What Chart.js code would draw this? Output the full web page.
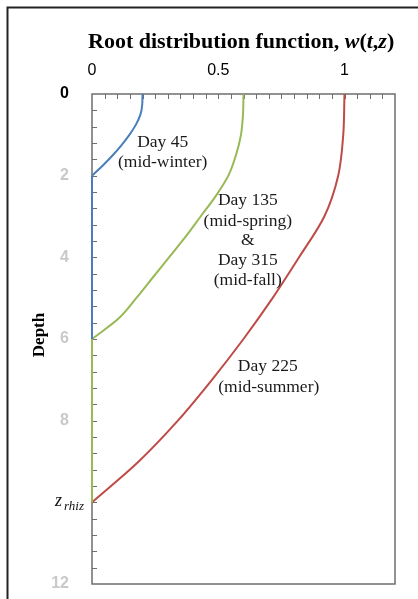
<!DOCTYPE html>
<html>
<head>
<meta charset="utf-8">
<script src="https://cdn.jsdelivr.net/npm/chart.js@4.4.1/dist/chart.umd.min.js"></script>
<style>
  html, body { margin: 0; padding: 0; background: #fff; }
  #wrap { width: 418px; height: 599px; }
</style>
</head>
<body>
<div id="wrap"><canvas id="chart" width="418" height="599"></canvas></div>
<script>
// depth below surface and root distribution w(t,z) for each season
const winterDepth = [0, 0.25, 0.5, 0.75, 1, 1.25, 1.5, 1.75, 2];
const winterW     = [0.20, 0.199, 0.192, 0.174, 0.148, 0.117, 0.082, 0.043, 0];

const springFallDepth = [0, 0.5, 1, 1.5, 2, 2.5, 3, 3.5, 4, 4.5, 5, 5.5, 6];
const springFallW     = [0.60, 0.598, 0.59, 0.57, 0.54, 0.49, 0.43, 0.37, 0.305, 0.24, 0.175, 0.105, 0];

const summerDepth = [0, 1, 2, 3, 4, 5, 6, 7, 8, 9, 10];
const summerW     = [1.00, 0.995, 0.975, 0.92, 0.82, 0.715, 0.60, 0.475, 0.34, 0.185, 0];

const xTickLabels = [0, 0.5, 1];
const yTickLabels = [0, 2, 4, 6, 8, 12];
const zRhiz = 10;

// curve captions: text lines with the (w, depth) where each line is centred
const captions = [
  { text: 'Day 45', w: 0.28, z: 1.18 },
  { text: '(mid-winter)', w: 0.28, z: 1.67 },
  { text: 'Day 135', w: 0.617, z: 2.6 },
  { text: '(mid-spring)', w: 0.617, z: 3.13 },
  { text: '&', w: 0.617, z: 3.58 },
  { text: 'Day 315', w: 0.617, z: 4.07 },
  { text: '(mid-fall)', w: 0.617, z: 4.56 },
  { text: 'Day 225', w: 0.696, z: 6.66 },
  { text: '(mid-summer)', w: 0.70, z: 7.18 }
];

const toPoints = (ws, zs) => ws.map((w, i) => ({ x: w, y: zs[i] }));
const last = arr => arr[arr.length - 1];

// below its rooting depth each profile sits on w = 0 until the next deeper profile ends
const winterTail = [{ x: 0, y: last(winterDepth) }, { x: 0, y: last(springFallDepth) }];
const springFallTail = [{ x: 0, y: last(springFallDepth) }, { x: 0, y: last(summerDepth) }];

const serif = '"Liberation Serif", "Times New Roman", serif';
const sans = '"Liberation Sans", Arial, sans-serif';

const decor = {
  id: 'decor',
  beforeDraw(chart) {
    const ctx = chart.ctx;
    ctx.save();
    ctx.fillStyle = '#fff';
    ctx.fillRect(0, 0, chart.width, chart.height);
    // outer frame, top and left
    ctx.strokeStyle = '#222';
    ctx.lineWidth = 2;
    ctx.beginPath();
    ctx.moveTo(7.5, chart.height);
    ctx.lineTo(7.5, 7.5);
    ctx.lineTo(chart.width, 7.5);
    ctx.stroke();
    ctx.restore();
  },
  beforeDatasetsDraw(chart) {
    const { ctx, chartArea: a, scales: { x, y } } = chart;
    ctx.save();
    ctx.strokeStyle = '#6e6e6e';
    ctx.lineWidth = 1.5;
    ctx.strokeRect(a.left, a.top, a.right - a.left, a.bottom - a.top);
    ctx.lineWidth = 1;
    ctx.beginPath();
    for (let k = 1; k < 24; k++) {
      const px = Math.round(x.getPixelForValue(k * 0.05)) + 0.5;
      ctx.moveTo(px, a.top);
      ctx.lineTo(px, a.top + 5);
    }
    for (let k = 1; k < 30; k++) {
      const py = Math.round(y.getPixelForValue(k * 0.4)) + 0.5;
      ctx.moveTo(a.left, py);
      ctx.lineTo(a.left + 5, py);
    }
    ctx.stroke();
    ctx.restore();
  },
  afterDraw(chart) {
    const { ctx, scales: { x, y } } = chart;
    ctx.save();
    ctx.fillStyle = '#000';
    ctx.textBaseline = 'alphabetic';

    // title with italic variables
    const parts = [
      ['Root distribution function, ', 'bold'],
      ['w', 'italic bold'],
      ['(', 'bold'],
      ['t', 'italic bold'],
      [',', 'bold'],
      ['z', 'italic bold'],
      [')', 'bold']
    ];
    let tx = 88;
    parts.forEach(([s, st]) => {
      ctx.font = st + ' 22px ' + serif;
      ctx.fillText(s, tx, 48);
      tx += ctx.measureText(s).width;
    });

    // y axis title
    ctx.save();
    ctx.translate(44, 335);
    ctx.rotate(-Math.PI / 2);
    ctx.font = 'bold 17px ' + serif;
    ctx.textAlign = 'center';
    ctx.fillText('Depth', 0, 0);
    ctx.restore();

    // rooting depth label
    const zy = y.getPixelForValue(zRhiz);
    ctx.font = 'italic 18px ' + serif;
    ctx.fillStyle = '#111';
    ctx.fillText('z', 55, zy + 4);
    ctx.font = 'italic 13px ' + serif;
    ctx.fillText('rhiz', 64, zy + 8);

    // curve captions
    ctx.font = '17.5px ' + serif;
    ctx.textAlign = 'center';
    ctx.textBaseline = 'middle';
    ctx.fillStyle = '#1a1a1a';
    captions.forEach(c => {
      ctx.fillText(c.text, x.getPixelForValue(c.w), y.getPixelForValue(c.z));
    });
    ctx.restore();
  }
};

const lineStyle = { borderWidth: 2, pointRadius: 0, cubicInterpolationMode: 'monotone', clip: 4, fill: false };

new Chart(document.getElementById('chart'), {
  type: 'line',
  data: {
    datasets: [
      Object.assign({ label: 'Day 45', data: toPoints(winterW, winterDepth), borderColor: '#4a7ebb' }, lineStyle),
      Object.assign({ label: 'Day 45 tail', data: winterTail, borderColor: '#4a7ebb' }, lineStyle),
      Object.assign({ label: 'Day 135 & 315', data: toPoints(springFallW, springFallDepth), borderColor: '#98b954' }, lineStyle),
      Object.assign({ label: 'Day 135 & 315 tail', data: springFallTail, borderColor: '#98b954' }, lineStyle),
      Object.assign({ label: 'Day 225', data: toPoints(summerW, summerDepth), borderColor: '#be4b48' }, lineStyle)
    ]
  },
  options: {
    responsive: false,
    animation: false,
    indexAxis: 'y',
    layout: { padding: { top: 0, left: 0, right: 23, bottom: 15 } },
    plugins: { legend: { display: false }, tooltip: { enabled: false } },
    scales: {
      x: {
        type: 'linear',
        position: 'top',
        min: 0,
        max: 1.2,
        grid: { display: false },
        border: { display: false },
        afterFit: s => { s.height = 94; s.paddingLeft = 0; s.paddingRight = 0; },
        afterBuildTicks: s => { s.ticks = xTickLabels.map(v => ({ value: v })); },
        ticks: {
          autoSkip: false,
          maxRotation: 0,
          padding: 6,
          color: '#000',
          font: { family: sans, size: 16 },
          callback: v => String(v)
        }
      },
      y: {
        type: 'linear',
        reverse: true,
        min: 0,
        max: 12,
        grid: { display: false },
        border: { display: false },
        afterFit: s => { s.width = 92; s.paddingTop = 0; s.paddingBottom = 0; },
        afterBuildTicks: s => { s.ticks = yTickLabels.map(v => ({ value: v })); },
        ticks: {
          autoSkip: false,
          padding: 15,
          color: ctx => ctx.tick && ctx.tick.value === 0 ? '#000' : '#c9c9c9',
          font: { family: sans, size: 16, weight: 'bold' },
          callback: v => String(v)
        }
      }
    }
  },
  plugins: [decor]
});
</script>
</body>
</html>
